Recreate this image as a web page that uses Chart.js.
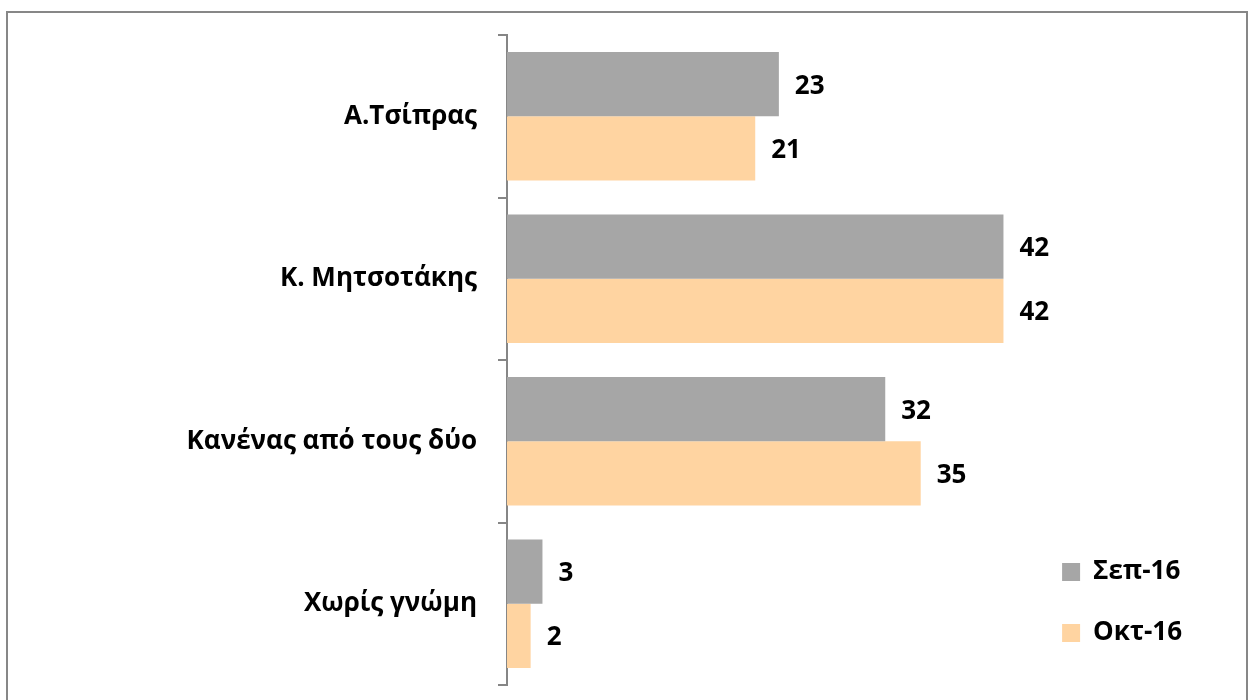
<!DOCTYPE html>
<html>
<head>
<meta charset="utf-8">
<script src="https://cdn.jsdelivr.net/npm/chart.js@4.4.0/dist/chart.umd.min.js"></script>
<style>
  html, body { margin: 0; padding: 0; background: #fff; overflow: hidden; }
  #frame {
    position: absolute; left: 6px; top: 11px; width: 1242px; height: 720px;
    box-sizing: border-box; border: 2px solid #878787;
  }
  #wrap { position: absolute; left: 0; top: 0; width: 1253px; height: 700px; }
</style>
</head>
<body>
<div id="frame"></div>
<div id="wrap"><canvas id="chart" width="1253" height="700"></canvas></div>
<script>
let categories = ['Α.Τσίπρας', 'Κ. Μητσοτάκης', 'Κανένας από τους δύο', 'Χωρίς γνώμη'];
let seriesNames = ['Σεπ-16', 'Οκτ-16'];
let sep16 = [23, 42, 32, 3];
let oct16 = [21, 42, 35, 2];
let colors = ['#A6A6A6', '#FFD4A1'];

const FONT = "'Open Sans', sans-serif";
const FSIZE = 26;

// draws the value next to the end of each bar
const valueLabels = {
    id: 'valueLabels',
    afterDatasetsDraw(chart) {
        const ctx = chart.ctx;
        ctx.save();
        ctx.font = "bold " + FSIZE + "px " + FONT;
        ctx.fillStyle = '#000';
        ctx.textAlign = 'left';
        ctx.textBaseline = 'middle';
        chart.data.datasets.forEach(function(ds, i) {
            const meta = chart.getDatasetMeta(i);
            meta.data.forEach(function(bar, j) {
                ctx.fillText(String(ds.data[j]), bar.x + 16, bar.y + 2);
            });
        });
        ctx.restore();
    }
};

// legend sits a bit above the bottom of the plot, like the original
const legendNudge = {
    id: 'legendNudge',
    afterLayout(chart) {
        chart.legend.top -= 4;
        chart.legend.bottom -= 4;
    }
};

function initChart() {
    const ctx = document.getElementById('chart').getContext('2d');
    let chart = new Chart(ctx, {
        type: 'bar',
        data: {
            labels: categories,
            datasets: [{
                label: seriesNames[0],
                data: sep16,
                backgroundColor: colors[0],
                categoryPercentage: 0.79,
                barPercentage: 1.0
            }, {
                label: seriesNames[1],
                data: oct16,
                backgroundColor: colors[1],
                categoryPercentage: 0.79,
                barPercentage: 1.0
            }]
        },
        options: {
            indexAxis: 'y',
            responsive: false,
            animation: false,
            layout: {
                padding: { left: 0, right: 61, top: 35, bottom: 15 }
            },
            scales: {
                x: {
                    display: false,
                    min: 0,
                    max: 44
                },
                y: {
                    afterFit: function(scale) {
                        scale.width = 507;
                        scale.paddingTop = 0;
                        scale.paddingBottom = 0;
                    },
                    grid: {
                        drawOnChartArea: false,
                        drawTicks: true,
                        tickLength: 9,
                        offset: true,
                        color: '#868686',
                        lineWidth: 2
                    },
                    border: { display: true, color: '#868686', width: 2 },
                    ticks: {
                        padding: 21,
                        color: '#000',
                        font: { family: FONT, size: FSIZE, weight: 'bold' }
                    }
                }
            },
            plugins: {
                legend: {
                    position: 'right',
                    align: 'end',
                    labels: {
                        boxWidth: 18,
                        boxHeight: 18,
                        padding: 35,
                        color: '#000',
                        font: { family: FONT, size: FSIZE, weight: 'bold' }
                    }
                },
                tooltip: { enabled: false }
            }
        },
        plugins: [valueLabels, legendNudge]
    });
    return chart;
}

initChart();
</script>
</body>
</html>
